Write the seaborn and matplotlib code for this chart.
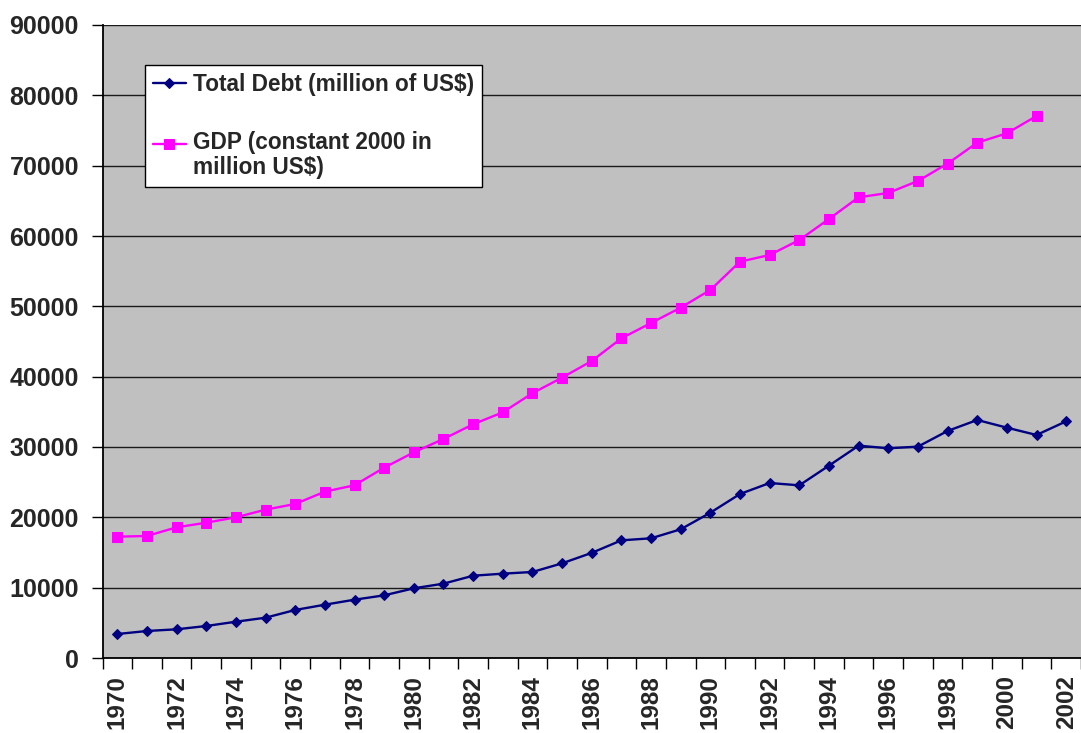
import matplotlib
matplotlib.use("Agg")  # headless
import matplotlib.pyplot as plt
from matplotlib.legend_handler import HandlerLine2D
import numpy as np
import seaborn as sns

# values
YEARS = list(range(1970, 2003))
DEBT = [3410, 3840, 4080, 4550, 5160, 5730, 6830, 7580, 8290, 8910,
        9910, 10570, 11700, 11990, 12230, 13460, 14950, 16730, 17020, 18300,
        20660, 23320, 24880, 24550, 27350, 30190, 29820, 30050, 32280, 33840,
        32750, 31710, 33650]
GDP_YEARS = YEARS[:-1]  # no GDP point for 2002
GDP = [17250, 17350, 18580, 19240, 20000, 21090, 21900, 23650, 24560, 27060,
       29240, 31140, 33230, 34930, 37650, 39860, 42230, 45450, 47630, 49810,
       52330, 56350, 57300, 59430, 62420, 65500, 66120, 67820, 70290, 73270,
       74600, 77060]
DEBT_LABEL = "Total Debt (million of US$)"
GDP_LABEL = "GDP (constant 2000 in\nmillion US$)"
Y_TICKS = list(range(0, 90001, 10000))

DEBT_COLOR = "#000080"
GDP_COLOR = "#FF00FF"
PLOT_BG = "#C0C0C0"


class RaisedLineHandler(HandlerLine2D):
    """Legend handle lifted up so it sits beside the first line of a 2-line label."""
    def __init__(self, raise_pt=0, **kw):
        super().__init__(**kw)
        self.raise_pt = raise_pt

    def create_artists(self, legend, orig_handle, xdescent, ydescent,
                       width, height, fontsize, trans):
        return super().create_artists(legend, orig_handle, xdescent, ydescent,
                                      width, height + 2 * self.raise_pt,
                                      fontsize, trans)


def main():
    sns.set_theme(style="white")
    plt.rcParams["font.family"] = ["Liberation Sans", "DejaVu Sans"]
    plt.rcParams["font.weight"] = "bold"

    fig = plt.figure(figsize=(10.81, 7.33), dpi=100)
    ax = fig.add_axes([102.5 / 1081, 75 / 733, (1081 - 102.5) / 1081, 633 / 733])
    ax.set_facecolor(PLOT_BG)

    sns.lineplot(x=YEARS, y=DEBT, ax=ax, color=DEBT_COLOR, lw=1.7,
                 marker="D", markersize=5.4, markeredgecolor=DEBT_COLOR,
                 label=DEBT_LABEL, zorder=3)
    sns.lineplot(x=GDP_YEARS, y=GDP, ax=ax, color=GDP_COLOR, lw=1.7,
                 marker="s", markersize=6.5, markeredgecolor=GDP_COLOR,
                 label=GDP_LABEL, zorder=3)

    ax.set_xlim(YEARS[0] - 0.5, YEARS[-1] + 0.5)
    ax.set_ylim(0, 90000)
    ax.set_yticks(Y_TICKS)
    ax.set_yticklabels([str(v) for v in Y_TICKS])
    ax.set_xticks(YEARS[::2])
    ax.set_xticklabels([str(y) for y in YEARS[::2]], rotation=90)
    ax.set_xticks(np.arange(YEARS[0] - 0.5, YEARS[-1] + 1), minor=True)
    ax.tick_params(axis="x", which="major", length=0, pad=12,
                   labelsize=17.5)
    ax.tick_params(axis="x", which="minor", bottom=True, length=8,
                   width=1, color="black", direction="out")
    ax.tick_params(axis="y", left=True, length=8, width=1, color="black",
                   pad=9, labelsize=18)
    ax.set_xlabel("")
    ax.set_ylabel("")

    ax.grid(axis="y", color="#1a1a1a", lw=1)
    ax.grid(axis="x", visible=False)
    ax.set_axisbelow(True)
    for side in ("top", "right"):
        ax.spines[side].set_visible(False)
    for side in ("left", "bottom"):
        ax.spines[side].set_color("black")
        ax.spines[side].set_linewidth(1.3)

    handles, labels = ax.get_legend_handles_labels()
    leg = ax.legend(handles, labels, loc="upper left",
                    bbox_to_anchor=(42.5 / 978.5, 593 / 633),
                    borderaxespad=0, fontsize=16.3, frameon=True,
                    fancybox=False, edgecolor="black", facecolor="white",
                    framealpha=1, labelspacing=1.55, handlelength=1.45,
                    handletextpad=0.3, borderpad=0.35,
                    handler_map={handles[1]: RaisedLineHandler(8.5)})
    leg.get_frame().set_linewidth(1)
    leg.get_texts()[1].set_linespacing(1.1)

    fig.savefig("out.png", dpi=100)
    plt.close(fig)


if __name__ == "__main__":
    main()
